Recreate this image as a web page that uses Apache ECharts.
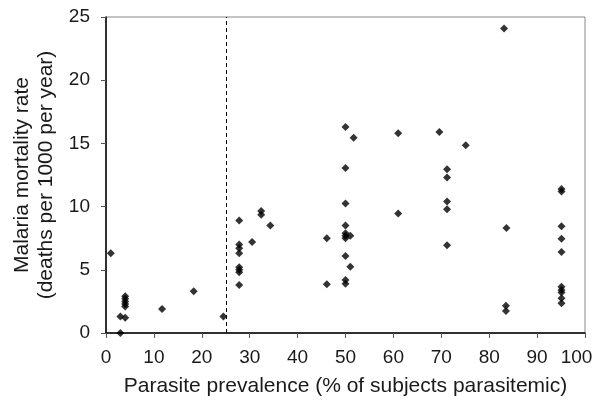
<!DOCTYPE html>
<html>
<head>
<meta charset="utf-8">
<script src="https://cdn.jsdelivr.net/npm/echarts@6/dist/echarts.min.js"></script>
<style>
  html, body { margin: 0; padding: 0; background: #fff; }
  #chart { width: 595px; height: 405px; }
</style>
</head>
<body>
<div id="chart"></div>
<script>
// parasite prevalence (%) and malaria mortality (deaths per 1000 per year)
const prevalence = [
  1, 3, 3, 4, 4, 4, 4, 4, 4, 11.7, 18.3, 24.5,
  27.8, 27.8, 27.8, 27.8, 27.8, 27.8, 27.8, 27.8, 30.5, 32.4, 32.4, 34.3,
  46.1, 46.1, 50, 50, 50, 50, 50, 50, 50, 50, 50, 50, 51.7, 51, 51,
  61, 61, 69.6, 75.1, 71.2, 71.2, 71.2, 71.2, 71.2,
  83.1, 83.6, 83.5, 83.5,
  95.1, 95.1, 95.1, 95.1, 95.1, 95.1, 95.1, 95.1, 95.1, 95.1
];
const mortality = [
  6.3, 0, 1.3, 1.2, 2.9, 2.7, 2.5, 2.3, 2.1, 1.9, 3.3, 1.3,
  8.9, 7.0, 6.7, 6.3, 5.2, 5.0, 4.8, 3.8, 7.2, 9.65, 9.35, 8.5,
  7.5, 3.85, 16.3, 13.05, 10.25, 8.5, 7.9, 7.7, 7.5, 6.1, 4.2, 3.9, 15.45, 7.7, 5.25,
  15.8, 9.45, 15.9, 14.85, 12.95, 12.3, 10.4, 9.8, 6.95,
  24.1, 8.3, 2.15, 1.75,
  11.4, 11.2, 8.45, 7.45, 6.4, 3.65, 3.4, 3.2, 2.75, 2.35
];
const xTicks = [0, 10, 20, 30, 40, 50, 60, 70, 80, 90, 100];
const yTicks = [0, 5, 10, 15, 20, 25];
const cutoff = 25;

const points = prevalence.map((x, i) => [x, mortality[i]]);
const font = 'Liberation Sans, Arial, sans-serif';
const textColor = '#1a1a1a';
const xMax = xTicks[xTicks.length - 1];

const chart = echarts.init(document.getElementById('chart'));
chart.setOption({
  animation: false,
  grid: {
    left: 106, right: 10, top: 17, bottom: 72,
    containLabel: false, outerBoundsMode: 'none',
    show: true, borderColor: '#888', borderWidth: 1
  },
  xAxis: {
    type: 'value',
    min: xTicks[0], max: xMax, interval: 10,
    name: 'Parasite prevalence (% of subjects parasitemic)',
    nameLocation: 'middle', nameGap: 43,
    nameTextStyle: { color: textColor, fontSize: 21, fontFamily: font },
    axisLine: { lineStyle: { color: '#000', width: 1.5 } },
    axisTick: { show: true, length: 5, lineStyle: { color: '#555' } },
    axisLabel: {
      color: textColor, fontSize: 19, fontFamily: font, margin: 15,
      // last label is pulled in a bit so it stays on the page
      formatter: v => (v === xMax ? '{last|' + v + '}' : String(v)),
      rich: { last: { color: textColor, fontSize: 19, fontFamily: font, padding: [0, 17, 0, 0] } }
    },
    splitLine: { show: false }
  },
  yAxis: {
    type: 'value',
    min: yTicks[0], max: yTicks[yTicks.length - 1], interval: 5,
    name: 'Malaria mortality rate\n(deaths per 1000 per year)',
    nameLocation: 'middle', nameGap: 46, nameRotate: 90,
    nameTextStyle: { color: textColor, fontSize: 21, fontFamily: font, lineHeight: 24 },
    axisLine: { show: true, lineStyle: { color: '#000', width: 1.5 } },
    axisTick: { show: true, length: 5, lineStyle: { color: '#555' } },
    axisLabel: { color: textColor, fontSize: 19, fontFamily: font, margin: 16 },
    splitLine: { show: false }
  },
  series: [{
    type: 'scatter',
    symbol: 'diamond',
    symbolSize: 8,
    itemStyle: { color: '#000' },
    data: points,
    markLine: {
      silent: true,
      symbol: 'none',
      label: { show: false },
      lineStyle: { color: '#000', type: [4, 3], width: 1 },
      data: [[{ coord: [cutoff, 0] }, { coord: [cutoff, 25] }]]
    }
  }]
});
</script>
</body>
</html>
